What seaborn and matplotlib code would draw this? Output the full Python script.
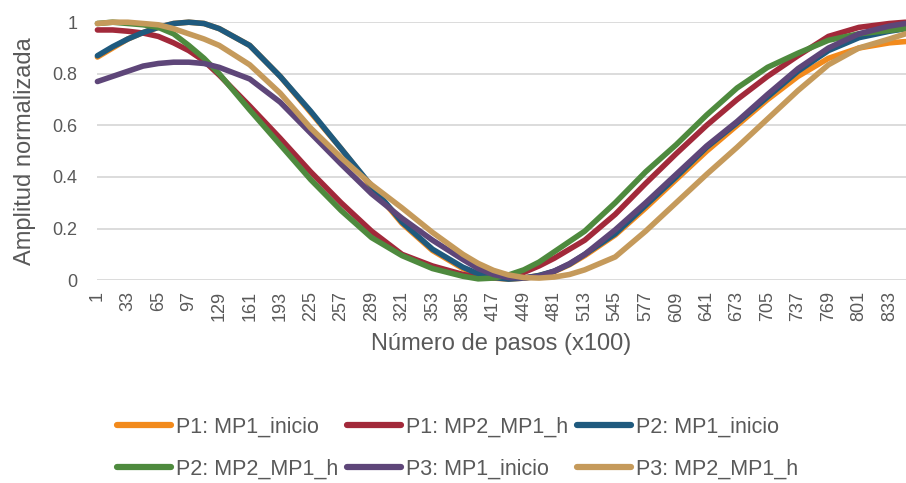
import pandas as pd
import matplotlib.pyplot as plt
import seaborn as sns

steps = [1, 17, 33, 49, 65, 81, 97, 113, 129, 161, 193, 225, 257, 289, 321, 353, 385,
         401, 417, 433, 449, 465, 481, 497, 513, 545, 577, 609, 641, 673, 705, 737,
         769, 801, 833, 850]
tick_steps = [1, 33, 65, 97, 129, 161, 193, 225, 257, 289, 321, 353, 385, 417,
              449, 481, 513, 545, 577, 609, 641, 673, 705, 737, 769, 801, 833]

p1_inicio = [0.865, 0.90, 0.935, 0.96, 0.98, 0.995, 1.0, 0.995, 0.975, 0.91, 0.79, 0.65, 0.51,
             0.36, 0.22, 0.115, 0.045, 0.022, 0.008, 0.004, 0.008, 0.018, 0.033, 0.06, 0.095,
             0.175, 0.28, 0.39, 0.50, 0.60, 0.70, 0.79, 0.86, 0.90, 0.92, 0.925]
p1_mp2 = [0.97, 0.97, 0.965, 0.958, 0.945, 0.92, 0.89, 0.85, 0.795, 0.675, 0.55, 0.42, 0.30,
          0.19, 0.10, 0.055, 0.022, 0.012, 0.01, 0.015, 0.03, 0.055, 0.085, 0.12, 0.155,
          0.255, 0.375, 0.49, 0.60, 0.70, 0.79, 0.87, 0.945, 0.98, 0.995, 1.0]
p2_inicio = [0.87, 0.905, 0.935, 0.96, 0.98, 0.995, 1.0, 0.995, 0.975, 0.91, 0.79, 0.655, 0.51,
             0.365, 0.225, 0.12, 0.05, 0.025, 0.01, 0.004, 0.008, 0.018, 0.035, 0.062, 0.10,
             0.18, 0.29, 0.40, 0.515, 0.61, 0.71, 0.81, 0.89, 0.94, 0.965, 0.975]
p2_mp2 = [0.995, 1.0, 0.995, 0.99, 0.98, 0.955, 0.91, 0.86, 0.80, 0.66, 0.525, 0.39, 0.27,
          0.165, 0.095, 0.045, 0.015, 0.005, 0.008, 0.02, 0.04, 0.07, 0.11, 0.15, 0.19,
          0.30, 0.42, 0.525, 0.64, 0.745, 0.825, 0.88, 0.93, 0.955, 0.968, 0.975]
p3_inicio = [0.77, 0.79, 0.81, 0.83, 0.84, 0.845, 0.845, 0.84, 0.825, 0.78, 0.69, 0.57, 0.45,
             0.335, 0.24, 0.155, 0.08, 0.045, 0.022, 0.01, 0.008, 0.015, 0.035, 0.064, 0.10,
             0.195, 0.30, 0.41, 0.52, 0.615, 0.72, 0.82, 0.90, 0.955, 0.985, 0.995]
p3_mp2 = [0.995, 1.0, 1.0, 0.995, 0.99, 0.975, 0.955, 0.935, 0.91, 0.835, 0.725, 0.59, 0.475,
          0.37, 0.28, 0.185, 0.10, 0.065, 0.038, 0.02, 0.01, 0.008, 0.012, 0.022, 0.04,
          0.09, 0.19, 0.30, 0.41, 0.515, 0.625, 0.735, 0.835, 0.90, 0.935, 0.955]

series = {
    'P1: MP1_inicio': p1_inicio,
    'P1: MP2_MP1_h': p1_mp2,
    'P2: MP1_inicio': p2_inicio,
    'P2: MP2_MP1_h': p2_mp2,
    'P3: MP1_inicio': p3_inicio,
    'P3: MP2_MP1_h': p3_mp2,
}
colors = ['#F28A1C', '#A2293A', '#1F5A7E', '#4E8A3E', '#5E4679', '#C59A5B']

df = pd.concat([pd.DataFrame({'paso': steps, 'amp': v, 'serie': k}) for k, v in series.items()])

sns.set_style('white')
plt.rcParams['font.family'] = ['Liberation Sans', 'DejaVu Sans']

fig = plt.figure(figsize=(9.06, 4.83), dpi=100)
ax = fig.add_axes([0.107, 0.42, 0.893, 0.534])

sns.lineplot(data=df, x='paso', y='amp', hue='serie', palette=colors,
             linewidth=4.0, ax=ax, legend=True)
for ln in ax.lines:
    ln.set_clip_on(False)
    ln.set_solid_capstyle('round')
    ln.set_solid_joinstyle('round')

ax.set_xlim(0.5, 850.5)
ax.set_ylim(0, 1)
ax.set_yticks([0, 0.2, 0.4, 0.6, 0.8, 1.0])
ax.set_yticklabels(['0', '0.2', '0.4', '0.6', '0.8', '1'])
ax.set_xticks(tick_steps)
ax.set_xticklabels([str(s) for s in tick_steps], rotation=90)
ax.tick_params(axis='both', colors='#595959', labelsize=13, length=0)
ax.tick_params(axis='y', pad=14)
ax.tick_params(axis='x', pad=8)
ax.yaxis.grid(True, color='#D9D9D9', linewidth=1.3)
ax.set_axisbelow(True)
for s in ax.spines.values():
    s.set_visible(False)

ax.set_xlabel('Número de pasos (x100)', color='#595959', fontsize=17, labelpad=8)
ax.set_ylabel('Amplitud normalizada', color='#595959', fontsize=17, labelpad=12)

handles, labels = ax.get_legend_handles_labels()
for h in handles:
    h.set_linewidth(4.5)
    h.set_solid_capstyle('round')
order = [0, 3, 1, 4, 2, 5]
ax.legend([handles[i] for i in order], [labels[i] for i in order],
          ncol=3, frameon=False, fontsize=15.5, handlelength=2.5,
          columnspacing=0.45, handletextpad=0.2, labelspacing=1.0,
          loc='center', bbox_to_anchor=(0.505, 0.072), bbox_transform=fig.transFigure,
          labelcolor='#595959')

fig.savefig('out.png', dpi=100)
